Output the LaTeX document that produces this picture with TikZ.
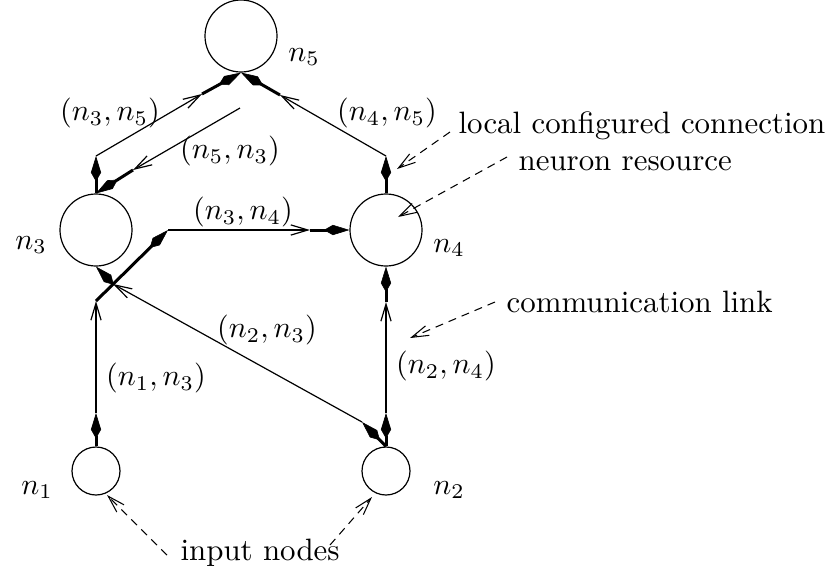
\documentclass[tikz,border=0pt]{standalone}
\usepackage{fontspec}
\usetikzlibrary{arrows.meta}
\tikzset{
  neuron/.style={circle, draw, line width=0.4pt, inner sep=0pt},
  bigneuron/.style={neuron, minimum size=24pt},
  smallneuron/.style={neuron, minimum size=16pt},
  link/.style={line width=0.4pt, -{Straight Barb[length=5.7pt,width=3.4pt,line width=0.4pt]}},
  conn/.style={line width=1pt, -{Kite[length=8.5pt,width=3.4pt,inset=3pt,line width=0.2pt]}},
  note/.style={line width=0.35pt, dash pattern=on 2.7pt off 2pt, -{Straight Barb[length=5.7pt,width=3.4pt,line width=0.35pt]}},
  lbl/.style={inner sep=0pt},
  txt/.style={inner sep=0pt, anchor=base west, font=\fontsize{10.3}{12}\selectfont}
}
\begin{document}
\begin{tikzpicture}[x=0.33333pt,y=-0.33333pt]
\useasboundingbox (0,0) rectangle (830,580);
% neurons
\node[bigneuron] (n5) at (241,36) {};
\node[bigneuron] (n3) at (96,230) {};
\node[bigneuron] (n4) at (386,230) {};
\node[smallneuron] (n1) at (96,471) {};
\node[smallneuron] (n2) at (386,471) {};
% junction points
\coordinate (t1) at (96,413);
\coordinate (c13) at (96,301);
\coordinate (c34) at (168,230);
\coordinate (a34) at (310,230);
\coordinate (x23) at (113,284);
\coordinate (t23) at (362,422);
\coordinate (t24) at (386,413);
\coordinate (a24) at (386,302);
\coordinate (t35) at (96,156);
\coordinate (a35) at (202,94);
\coordinate (t45) at (386,156);
\coordinate (a45) at (280,95);
\coordinate (s53) at (240,108);
\coordinate (a53) at (133,170);
% (n1,n3) and (n3,n4)
\draw[conn] (n1.north) -- (t1);
\draw[link] (t1) -- (c13);
\draw[conn] (c13) -- (c34);
\draw[link] (c34) -- (a34);
\draw[conn] (a34) -- (n4.west);
% (n2,n3)
\draw[conn] (n2.north) -- (t23);
\draw[link] (t23) -- (x23);
\draw[conn] (x23) -- (n3.south);
% (n2,n4)
\draw[conn] (n2.north) -- (t24);
\draw[link] (t24) -- (a24);
\draw[conn] (a24) -- (n4.south);
% (n3,n5)
\draw[conn] (n3.north) -- (t35);
\draw[link] (t35) -- (a35);
\draw[conn] (a35) -- (n5.south);
% (n4,n5)
\draw[conn] (n4.north) -- (t45);
\draw[link] (t45) -- (a45);
\draw[conn] (a45) -- (n5.south);
% (n5,n3)
\draw[link] (s53) -- (a53);
\draw[conn] (a53) -- (n3.north);
% labels
\node[lbl] (l5) at (304,57) {$n_5$};
\node[lbl] (l3) at (31,245) {$n_3$};
\node[lbl] (l4) at (449,248) {$n_4$};
\node[lbl] (l1) at (37,490) {$n_1$};
\node[lbl] (l2) at (449,490) {$n_2$};
\node[lbl] (e35) at (110,113) {$(n_3,n_5)$};
\node[lbl] (e53) at (230,151) {$(n_5,n_3)$};
\node[lbl] (e45) at (387,113) {$(n_4,n_5)$};
\node[lbl] (e34) at (243,212) {$(n_3,n_4)$};
\node[lbl] (e23) at (267,330) {$(n_2,n_3)$};
\node[lbl] (e13) at (156,378) {$(n_1,n_3)$};
\node[lbl] (e24) at (446,366) {$(n_2,n_4)$};
% annotations
\node[txt] (lcc) at (458,133) {local configured connection};
\node[txt] (nr) at (518,170) {neuron resource};
\node[txt] (cl) at (506,312) {communication link};
\node[txt] (in) at (180,560) {input nodes};
\coordinate (lccS) at (450,132);
\coordinate (lccE) at (397,169);
\coordinate (nrS) at (507,157);
\coordinate (nrE) at (398,217);
\coordinate (clS) at (495,302);
\coordinate (clE) at (410,338);
\coordinate (inLS) at (167,555);
\coordinate (inLE) at (107,495);
\coordinate (inRS) at (330,545);
\coordinate (inRE) at (372,497);
\draw[note] (lccS) -- (lccE);
\draw[note] (nrS) -- (nrE);
\draw[note] (clS) -- (clE);
\draw[note] (inLS) -- (inLE);
\draw[note] (inRS) -- (inRE);
\end{tikzpicture}
\end{document}
